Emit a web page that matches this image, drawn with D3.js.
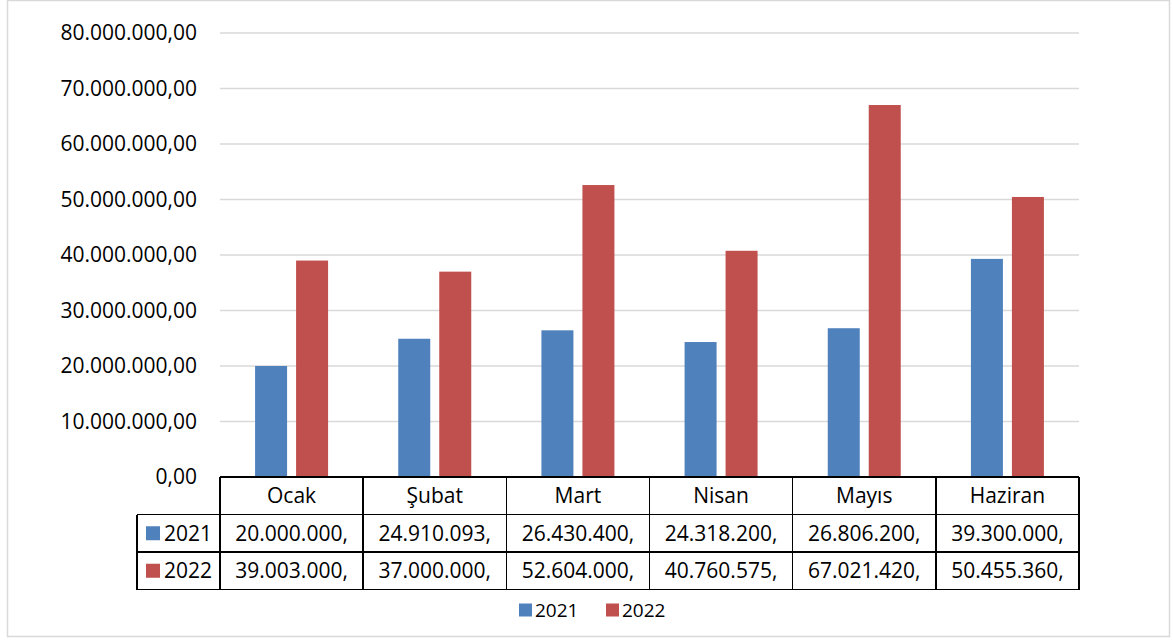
<!DOCTYPE html>
<html>
<head>
<meta charset="utf-8">
<script src="https://cdn.jsdelivr.net/npm/d3@7"></script>
<style>
  body { margin: 0; background: #fff; }
  svg text { font-family: "Open Sans", sans-serif; fill: #000; }
</style>
</head>
<body>
<svg id="chart"></svg>
<script>
var months = ["Ocak", "Şubat", "Mart", "Nisan", "Mayıs", "Haziran"];
var seriesNames = ["2021", "2022"];
var values2021 = [20000000, 24910093, 26430400, 24318200, 26806200, 39300000];
var values2022 = [39003000, 37000000, 52604000, 40760575, 67021420, 50455360];
var yTicks = [0, 10000000, 20000000, 30000000, 40000000, 50000000, 60000000, 70000000, 80000000];
var colors = ["#4F81BD", "#C0504D"];

var width = 1173, height = 641;
var plotLeft = 220, plotRight = 1079, plotTop = 33, plotBottom = 477;
var rowH = 37.5, tableLeft = 137;

var tr = d3.formatLocale({ decimal: ",", thousands: ".", grouping: [3], currency: ["", " ₺"] });
var fmt = tr.format(",.2f");

var series = [values2021, values2022];

var svg = d3.select("#chart")
  .attr("width", width)
  .attr("height", height);

// outer frame
svg.append("rect")
  .attr("x", 7.5)
  .attr("y", 0.5)
  .attr("width", 1162)
  .attr("height", 636)
  .style("fill", "#fff")
  .style("stroke", "#D9D9D9")
  .style("stroke-width", 1.5);

var x = d3.scaleBand().domain(months).range([plotLeft, plotRight]).padding(0);
var y = d3.scaleLinear().domain([0, 80000000]).range([plotBottom, plotTop]);

var groupW = 73;
var xs = d3.scaleBand()
  .domain(seriesNames)
  .range([(x.bandwidth() - groupW) / 2, (x.bandwidth() + groupW) / 2])
  .paddingInner(9 / 41);

// gridlines
svg.append("g")
  .selectAll("line")
  .data(yTicks)
  .join("line")
    .attr("x1", plotLeft)
    .attr("x2", plotRight)
    .attr("y1", function (d) { return y(d); })
    .attr("y2", function (d) { return y(d); })
    .style("stroke", "#D9D9D9")
    .style("stroke-width", 1.5);

// y axis labels
var yAxis = svg.append("g")
  .attr("transform", "translate(" + (plotLeft - 10) + ",0)")
  .call(d3.axisLeft(y).tickValues(yTicks).tickFormat(fmt).tickSize(0).tickPadding(13));
yAxis.select(".domain").remove();
yAxis.selectAll("text")
  .style("font-size", "21px")
  .style("font-family", "'Open Sans', sans-serif")
  .attr("fill", "#000");

// bars
var groups = svg.append("g")
  .selectAll("g")
  .data(months)
  .join("g")
    .attr("transform", function (d) { return "translate(" + x(d) + ",0)"; });

groups.selectAll("rect")
  .data(function (d, i) {
    return seriesNames.map(function (s, j) { return { key: s, value: series[j][i], j: j }; });
  })
  .join("rect")
    .attr("x", function (d) { return xs(d.key); })
    .attr("width", xs.bandwidth())
    .attr("y", function (d) { return y(d.value); })
    .attr("height", function (d) { return plotBottom - y(d.value); })
    .style("fill", function (d) { return colors[d.j]; });

// data table
var table = svg.append("g");
var lineStyle = function (sel) {
  sel.style("stroke", "#000").style("stroke-width", 1.6).style("shape-rendering", "crispEdges");
};

// horizontal lines
table.append("line").attr("x1", plotLeft).attr("x2", plotRight)
  .attr("y1", plotBottom).attr("y2", plotBottom).call(lineStyle);
[1, 2, 3].forEach(function (r) {
  table.append("line")
    .attr("x1", tableLeft).attr("x2", plotRight)
    .attr("y1", plotBottom + r * rowH).attr("y2", plotBottom + r * rowH)
    .call(lineStyle);
});
// vertical lines
table.append("line").attr("x1", tableLeft).attr("x2", tableLeft)
  .attr("y1", plotBottom + rowH).attr("y2", plotBottom + 3 * rowH).call(lineStyle);
months.concat(["end"]).forEach(function (m) {
  var xx = m === "end" ? plotRight : x(m);
  table.append("line").attr("x1", xx).attr("x2", xx)
    .attr("y1", plotBottom).attr("y2", plotBottom + 3 * rowH).call(lineStyle);
});

// header labels
table.selectAll("text.cat")
  .data(months)
  .join("text")
    .attr("class", "cat")
    .attr("x", function (d) { return x(d) + x.bandwidth() / 2; })
    .attr("y", plotBottom + rowH / 2)
    .attr("dy", "0.36em")
    .attr("text-anchor", "middle")
    .style("font-size", "21px")
    .text(function (d) { return d; });

// rows
seriesNames.forEach(function (s, j) {
  var cy = plotBottom + rowH * (j + 1) + rowH / 2;
  table.append("rect")
    .attr("x", 146)
    .attr("y", cy - 7)
    .attr("width", 14)
    .attr("height", 14)
    .style("fill", colors[j]);
  table.append("text")
    .attr("x", 164)
    .attr("y", cy)
    .attr("dy", "0.36em")
    .style("font-size", "21px")
    .text(s);
  table.selectAll("text.v" + j)
    .data(series[j])
    .join("text")
      .attr("class", "v" + j)
      .attr("x", function (d, i) { return x(months[i]) + x.bandwidth() / 2; })
      .attr("y", cy)
      .attr("dy", "0.36em")
      .attr("text-anchor", "middle")
      .style("font-size", "21px")
      .text(function (d) { return fmt(d).slice(0, -2); }); // cell cuts off decimals
});

// legend
var legend = svg.append("g").attr("transform", "translate(519,610)");
var legendX = [0, 87];
seriesNames.forEach(function (s, j) {
  legend.append("rect")
    .attr("x", legendX[j])
    .attr("y", -6.5)
    .attr("width", 13)
    .attr("height", 13)
    .style("fill", colors[j]);
  legend.append("text")
    .attr("x", legendX[j] + 16)
    .attr("y", 0)
    .attr("dy", "0.36em")
    .style("font-size", "19px")
    .text(s);
});
</script>
</body>
</html>
